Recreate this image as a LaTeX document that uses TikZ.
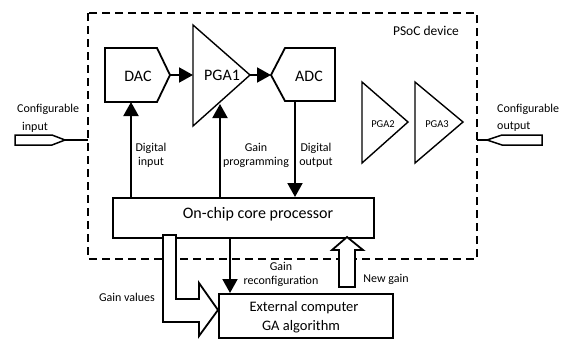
\documentclass[tikz,border=0pt]{standalone}
\usepackage{fontspec}
\setmainfont{Carlito}
\usetikzlibrary{arrows.meta}
\begin{document}
\begin{tikzpicture}[x=1pt,y=-1pt,
  blk/.style={line width=1.8pt, line join=miter},
  tri/.style={line width=1.4pt, line join=miter},
  conn/.style={line width=2pt,-{Triangle[length=14pt,width=15pt]}},
  fat/.style={line width=1.8pt, fill=white, line join=miter},
  lbl/.style={font=\fontsize{12}{14}\selectfont, inner sep=0pt},
  big/.style={font=\fontsize{16}{18}\selectfont, inner sep=0pt},
  mid/.style={font=\fontsize{14.5}{17}\selectfont, inner sep=0pt},
  small/.style={font=\fontsize{10.5}{12}\selectfont, inner sep=0pt}
]
\useasboundingbox (0,0) rectangle (565,338);
\clip (0,0) rectangle (565,338);

% PSoC device boundary
\draw[line width=1.8pt, dash pattern=on 8pt off 5pt] (88,13) rectangle (477,259);
\node[font=\fontsize{13.5}{16}\selectfont, inner sep=0pt] (psoc) at (426,31) {PSoC device};

% DAC
\draw[blk] (105,48) -- (157,48) -- (170,75) -- (157,102) -- (105,102) -- cycle;
\node[big] (dac) at (138,76) {DAC};
\coordinate (dacR) at (170,75);
\coordinate (dacB) at (131,102);

% PGA1
\draw[tri] (193,25) -- (250,75) -- (193,126) -- cycle;
\node[big] (pga1) at (222,75) {PGA1};
\coordinate (pga1L) at (193,75);
\coordinate (pga1R) at (250,75);
\coordinate (pga1B) at (220,104);

% ADC
\draw[blk] (285,48) -- (335,48) -- (335,101) -- (285,101) -- (271,75) -- cycle;
\node[big] (adc) at (309,76) {ADC};
\coordinate (adcL) at (271,75);
\coordinate (adcB) at (295,101);

% PGA2, PGA3
\draw[tri] (362,82) -- (408,122) -- (362,163) -- cycle;
\node[small] (pga2) at (383,124) {PGA2};
\draw[tri] (415,82) -- (463,122) -- (415,163) -- cycle;
\node[small] (pga3) at (437,124) {PGA3};

% processor
\node[draw, line width=1.8pt, minimum width=261pt, minimum height=40pt, anchor=north west, inner sep=0pt] (proc) at (112,197) {};
\node[big] (proctext) at (258,214) {On-chip core processor};

% connectors inside
\draw[conn] (dacR) -- (pga1L);
\draw[conn] (pga1R) -- (adcL);
\draw[conn] (proc.north -| dacB) -- (dacB);
\draw[conn] (proc.north -| pga1B) -- (pga1B);
\draw[conn] (adcB) -- (proc.north -| adcB);

\node[lbl, align=center] (dil) at (151,155) {Digital\\input};
\node[lbl, align=center] (gpl) at (256,155) {Gain\\programming};
\node[lbl, align=center] (dol) at (316,155) {Digital\\output};

% configurable input
\draw[line width=1.5pt, line join=miter] (15,135) -- (52,135) -- (65,140) -- (52,145) -- (15,145) -- cycle;
\coordinate (inTip) at (65,140);
\coordinate (inBox) at (88,140);
\draw[line width=1.5pt] (inTip) -- (inBox);
\node[lbl, anchor=west] (cin1) at (17,109) {Configurable};
\node[lbl, anchor=west] (cin2) at (22,127) {input};

% configurable output
\coordinate (outBox) at (477,140);
\coordinate (outTip) at (487,140);
\draw[line width=1.5pt] (outBox) -- (outTip);
\draw[line width=1.5pt, line join=miter] (487,140) -- (502,135) -- (542,135) -- (542,145) -- (502,145) -- cycle;
\node[lbl, anchor=west] (cout1) at (497,109) {Configurable};
\node[lbl, anchor=west] (cout2) at (497,127) {output};

% external computer
\node[mid] (ext1) at (304,308) {External computer};
\node[mid, anchor=base] (ext2) at (301,330) {GA algorithm};
\node[draw, line width=1.8pt, minimum width=174pt, minimum height=44pt, anchor=north west, inner sep=0pt] (ext) at (218,293) {};

% gain reconfiguration
\coordinate (grc) at (230,0);
\draw[conn] (proc.south -| grc) -- (ext.north -| grc);
\node[lbl, align=center] (grl) at (281,274) {Gain\\reconfiguration};

% gain values fat arrow
\draw[fat] (163,235) -- (176,235) -- (176,299) -- (199,299) -- (199,283) -- (218,310) -- (199,336) -- (199,322) -- (163,322) -- cycle;
\node[lbl] (gvl) at (127,297) {Gain values};

% new gain fat arrow
\draw[fat] (339,287) -- (339,250) -- (332,250) -- (347,237) -- (363,250) -- (355,250) -- (355,287) -- cycle;
\node[lbl] (ngl) at (386,279) {New gain};
\end{tikzpicture}
\end{document}
